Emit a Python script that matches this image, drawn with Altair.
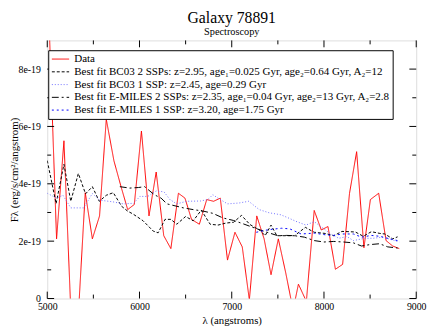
import altair as alt
import pandas as pd

# Flux values in units of 1e-19 erg/s/cm^2/angstrom
red_wl = [5010, 5101, 5181, 5255, 5340, 5412, 5489, 5567, 5640, 5723, 5800, 5872, 5944, 6021,
          6103, 6181, 6263, 6340, 6422, 6493, 6564, 6649, 6729, 6803, 6876, 6954, 7035, 7114,
          7191, 7271, 7351, 7426, 7505, 7585, 7665, 7723, 7809, 7894, 7971, 8043, 8124, 8202,
          8277, 8354, 8433, 8503, 8593, 8673, 8745, 8816]
red_flux = [10.5, 2.08, 5.5, -0.4, -0.4, 3.69, 2.08, 2.88, 6.25, 4.8, 3.9, 3.1, 3.28, 5.84,
            2.88, 4.41, 2.19, 1.74, 3.67, 3.5, 2.76, 2.59, 3.45, 3.39, 3.5, 1.34, 2.31, 1.8,
            -0.05, 2.88, 2.08, 0.83, 2.08, 0.9, -0.4, 0.5, -0.1, 3.07, 2.39, 2.51, 1.02, 1.19,
            3.67, 5.12, 1.77, 3.45, 3.67, 2.02, 1.83, 1.74]

bc2_wl = [5000, 5096, 5181, 5255, 5337, 5415, 5489, 5564, 5640, 5716, 5805, 5870, 5933, 6039,
          6149, 6202, 6277, 6340, 6404, 6500, 6582, 6670, 6766, 6851, 6936, 7021, 7106, 7197,
          7309, 7362, 7426, 7489, 7585, 7681, 7798, 7894, 8011, 8106, 8195, 8340, 8426, 8514,
          8606, 8660, 8745, 8798]
bc2_flux = [4.81, 3.31, 4.68, 3.39, 4.36, 3.65, 3.9, 3.39, 3.6, 3.69, 3.22, 3.05, 2.94, 2.71,
            2.35, 2.29, 2.76, 2.76, 2.59, 2.86, 2.71, 3.08, 2.59, 2.56, 2.63, 2.66, 2.9, 2.58,
            2.37, 2.19, 2.56, 2.19, 2.19, 2.19, 2.48, 2.31, 2.27, 2.19, 2.34, 2.32, 2.17, 2.33,
            2.27, 2.25, 2.08, 2.15]

bc1_wl = [5000, 5101, 5170, 5255, 5394, 5489, 5569, 5713, 5824, 5936, 6005, 6090, 6181, 6266,
          6330, 6404, 6511, 6660, 6741, 6795, 6851, 6954, 7078, 7184, 7298, 7404, 7532, 7628,
          7697, 7805, 7894, 7968, 8074, 8160, 8248, 8319, 8444, 8532, 8638, 8713, 8766, 8816]
bc1_flux = [3.67, 3.5, 3.6, 3.16, 3.16, 3.66, 3.43, 3.37, 3.3, 3.32, 3.56, 3.56, 3.75, 3.72,
            3.45, 3.3, 3.39, 3.4, 3.45, 3.62, 3.5, 3.3, 3.33, 3.39, 3.1, 2.99, 2.92, 2.79,
            2.69, 2.56, 2.68, 2.5, 2.25, 2.1, 2.16, 2.02, 2.1, 2.1, 2.14, 2.07, 2.02, 1.97]

em2_wl = [5787, 5894, 5989, 6056, 6160, 6234, 6298, 6476, 6582, 6688, 6795, 6904, 7021, 7128,
          7255, 7383, 7500, 7596, 7681, 7787, 7894, 8000, 8106, 8213, 8319, 8407, 8497, 8603,
          8691, 8798]
em2_flux = [3.9, 3.85, 3.87, 3.9, 3.62, 3.5, 3.3, 3.16, 3.1, 3.05, 2.97, 2.81, 2.72, 2.6,
            2.45, 2.31, 2.19, 2.2, 2.19, 2.14, 2.02, 1.97, 1.99, 1.97, 1.94, 1.83, 1.88, 1.91,
            1.8, 1.76]

em1_wl = [7266, 7397, 7540, 7628, 7752, 7894, 8018, 8106, 8195, 8319, 8407, 8514, 8603, 8713,
          8798]
em1_flux = [2.31, 2.4, 2.45, 2.43, 2.25, 2.28, 2.22, 2.2, 2.25, 2.25, 2.14, 2.2, 2.17, 2.08,
            2.02]

series_names = [
    "Data",
    "Best fit BC03 2 SSPs: z=2.95, age\u2081=0.025 Gyr, age\u2082=0.64 Gyr, A\u2082=12",
    "Best fit BC03 1 SSP: z=2.45, age=0.29 Gyr",
    "Best fit E-MILES 2 SSPs: z=2.35, age\u2081=0.04 Gyr, age\u2082=13 Gyr, A\u2082=2.8",
    "Best fit E-MILES 1 SSP: z=3.20, age=1.75 Gyr",
]
series_colors = ["#ff0000", "#000000", "#7070ff", "#000000", "#0000ff"]
series_dash = [[1, 0], [3, 2], [1, 2], [7, 3, 2, 3], [2, 3]]
series_width = [1, 1, 1, 2, 2]

x_major = [5000, 6000, 7000, 8000, 9000]
x_minor = [5500, 6500, 7500, 8500]
y_major = [0, 2, 4, 6, 8]
y_minor = [1, 3, 5, 7]

rows = []
for name, wl, fl in zip(series_names,
                        [red_wl, bc2_wl, bc1_wl, em2_wl, em1_wl],
                        [red_flux, bc2_flux, bc1_flux, em2_flux, em1_flux]):
    for w, f in zip(wl, fl):
        rows.append({"series": name, "wl": w, "flux": f})
df = pd.DataFrame(rows)

W, H = 376, 263
FONT = "Liberation Serif"

xscale = alt.Scale(domain=[5000, 9000], nice=False)
yscale = alt.Scale(domain=[0, 9], nice=False)

leg = alt.Legend(title=None, orient="none", legendX=1, legendY=10, fillColor="white",
                 strokeColor="black", padding=3, labelFont=FONT, labelFontSize=11.2,
                 labelColor="black", symbolType="M-1.6,0H1.6", symbolSize=121,
                 symbolOffset=3.5, labelOffset=8, rowPadding=1, labelLimit=400)

lines = alt.Chart(df).mark_line(clip=True).encode(
    x=alt.X("wl:Q", scale=xscale,
            axis=alt.Axis(values=x_major, format="d", ticks=False, tickSize=0, domain=False,
                          grid=False, labelFont=FONT, labelFontSize=10, labelColor="black",
                          labelPadding=3, labelFlush=False, title="\u03bb (angstroms)",
                          titleFont=FONT, titleFontSize=11, titleFontWeight="normal",
                          titleColor="black", titlePadding=3)),
    y=alt.Y("flux:Q", scale=yscale,
            axis=alt.Axis(values=y_major, ticks=False, tickSize=0, domain=False, grid=False,
                          labelExpr="datum.value == 0 ? '0' : datum.value + 'e-19'",
                          labelFont=FONT, labelFontSize=10, labelColor="black", labelPadding=7,
                          title="F\u03bb (erg/s/cm\u00b2/angstrom)", titleFont=FONT,
                          titleFontSize=11, titleFontWeight="normal", titleColor="black",
                          titlePadding=-1)),
    color=alt.Color("series:N", scale=alt.Scale(domain=series_names, range=series_colors),
                    legend=leg),
    strokeDash=alt.StrokeDash("series:N", scale=alt.Scale(domain=series_names, range=series_dash),
                              legend=leg),
    strokeWidth=alt.StrokeWidth("series:N", scale=alt.Scale(domain=series_names, range=series_width),
                                legend=leg),
    order="wl:Q",
)

def xticks(vals, length):
    d = pd.DataFrame({"t": vals})
    bottom = alt.Chart(d).mark_rule(color="black", strokeWidth=1).encode(
        x=alt.X("t:Q", scale=xscale), y=alt.value(H), y2=alt.value(H - length))
    top = alt.Chart(d).mark_rule(color="black", strokeWidth=1).encode(
        x=alt.X("t:Q", scale=xscale), y=alt.value(0), y2=alt.value(length))
    return [bottom, top]

def yticks(vals, length):
    d = pd.DataFrame({"t": vals})
    left = alt.Chart(d).mark_rule(color="black", strokeWidth=1).encode(
        y=alt.Y("t:Q", scale=yscale), x=alt.value(0), x2=alt.value(length))
    right = alt.Chart(d).mark_rule(color="black", strokeWidth=1).encode(
        y=alt.Y("t:Q", scale=yscale), x=alt.value(W), x2=alt.value(W - length))
    return [left, right]

tick_layers = xticks(x_major, 7) + xticks(x_minor, 4) + yticks(y_major, 7) + yticks(y_minor, 4)

chart = alt.layer(lines, *tick_layers).properties(
    width=W, height=H,
    title=alt.TitleParams(text="Galaxy 78891", subtitle="Spectroscopy", font=FONT,
                          fontSize=16, fontWeight="normal", color="black",
                          subtitleFont=FONT, subtitleFontSize=10.5, subtitleColor="black",
                          subtitlePadding=1, anchor="middle", frame="group", offset=3),
    autosize=alt.AutoSizeParams(type="none"),
    padding={"left": 40, "top": 30, "right": 12, "bottom": 26},
).configure_view(stroke="black", strokeWidth=1).configure(background="white")

chart.save("out.html", embed_options={"renderer": "svg", "actions": False})
